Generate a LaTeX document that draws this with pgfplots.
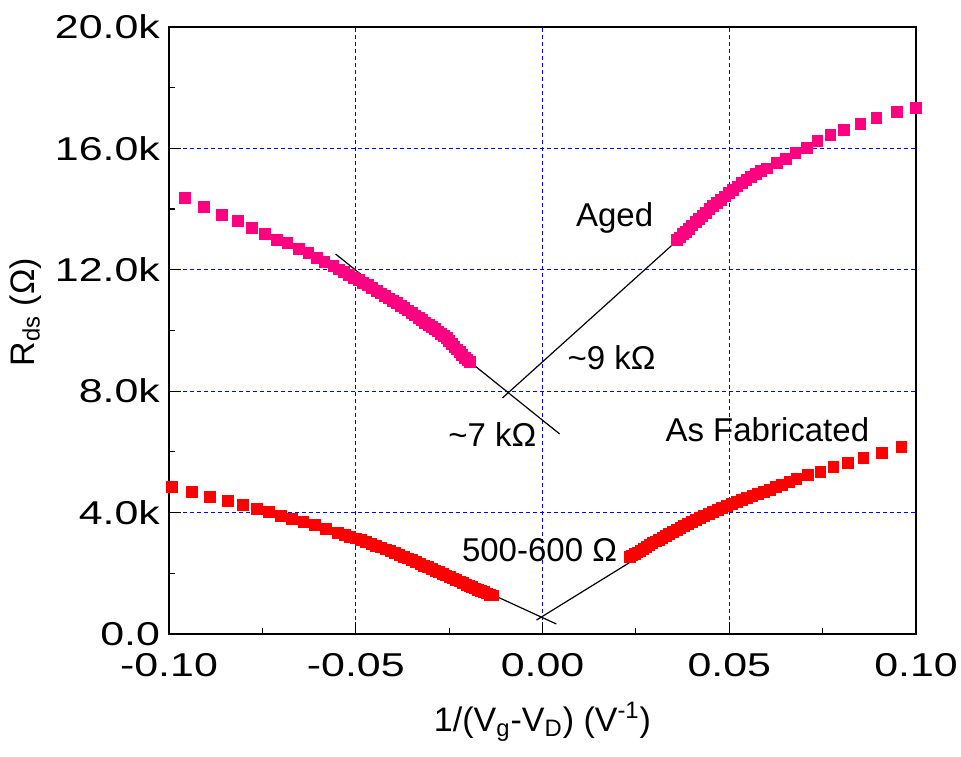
\documentclass[border=0pt]{standalone}
\usepackage{fontspec}
\setmainfont{Liberation Sans}
\newfontfamily\tickfont{Liberation Sans}[FakeStretch=1.3]
\usepackage{pgfplots}
\pgfplotsset{compat=1.18}

\definecolor{aged}{RGB}{255,0,128}
\definecolor{fab}{RGB}{255,0,0}

\begin{document}
\begin{tikzpicture}
  \begin{axis}[
      scale only axis,
      width=373.5pt, height=303.5pt,
      xmin=-0.1, xmax=0.1, ymin=0, ymax=20000,
      scaled ticks=false,
      xtick={-0.1,-0.05,0,0.05,0.1},
      xticklabels={-0.10,-0.05,0.00,0.05,0.10},
      ytick={0,4000,8000,12000,16000,20000},
      yticklabels={0.0,4.0k,8.0k,12.0k,16.0k,20.0k},
      minor xtick={-0.075,-0.025,0.025,0.075},
      minor ytick={2000,6000,10000,14000,18000},
      xtick pos=bottom, ytick pos=left,
      tick align=inside,
      major tick length=6pt, minor tick length=3pt,
      tick style={black, line width=0.6pt},
      axis line style={line width=1.25pt},
      ticklabel style={font=\tickfont\fontsize{16.5}{19}\selectfont},
      xticklabel style={yshift=-6pt},
      yticklabel style={xshift=-1pt},
      grid=major,
      major grid style={color={rgb,255:red,0;green,0;blue,255}, line width=0.6pt, dash pattern=on 2pt off 1.5pt},
      xlabel={1/(V\textsubscript{g}-V\textsubscript{D}) (V\textsuperscript{-1})},
      ylabel={R\textsubscript{ds} (Ω)},
      label style={font=\fontsize{17}{20}\selectfont},
      xlabel style={yshift=-6pt},
      ylabel style={at={(ticklabel cs:0.53)}},
      every axis plot/.append style={only marks, mark=square*, mark size=2.7pt},
    ]
    % aged, negative side
    \addplot[color=aged, mark options={draw=none, fill=aged}] coordinates {
      (-0.0957,14370) (-0.0907,14070) (-0.0859,13810) (-0.0816,13610)
      (-0.0779,13380) (-0.0744,13180) (-0.0712,12980) (-0.0683,12880)
      (-0.0653,12690) (-0.0627,12550) (-0.0605,12390) (-0.0584,12250)
      (-0.0560,12120) (-0.0546,12010) (-0.0532,11920) (-0.0518,11830)
      (-0.0505,11740) (-0.0492,11660) (-0.0480,11580) (-0.0468,11490)
      (-0.0456,11400) (-0.0444,11310) (-0.0433,11220) (-0.0422,11140)
      (-0.0411,11060) (-0.0400,10980) (-0.0390,10900) (-0.0380,10820)
      (-0.0370,10740) (-0.0360,10660) (-0.0350,10580) (-0.0341,10500)
      (-0.0332,10420) (-0.0323,10340) (-0.0314,10260) (-0.0305,10180)
      (-0.0297,10110) (-0.0289,10040) (-0.0281,9970) (-0.0273,9900)
      (-0.0265,9830) (-0.0257,9750) (-0.0250,9660) (-0.0243,9570)
      (-0.0236,9470) (-0.0229,9380) (-0.0222,9290) (-0.0215,9200)
      (-0.0208,9110) (-0.0201,9030) (-0.0195,8960)
    };
    % aged, positive side
    \addplot[color=aged, mark options={draw=none, fill=aged}] coordinates {
      (0.0359,12980) (0.0367,13070) (0.0375,13170) (0.0383,13260)
      (0.0392,13360) (0.0401,13460) (0.0410,13570) (0.0419,13670)
      (0.0428,13780) (0.0437,13880) (0.0447,14000) (0.0457,14100)
      (0.0467,14210) (0.0477,14310) (0.0488,14420) (0.0499,14530)
      (0.0510,14640) (0.0522,14750) (0.0534,14860) (0.0546,14970)
      (0.0558,15060) (0.0571,15170) (0.0585,15250) (0.0600,15340)
      (0.0627,15520) (0.0651,15650) (0.0677,15850) (0.0707,16010)
      (0.0736,16240) (0.0771,16440) (0.0806,16610) (0.0851,16800)
      (0.0894,17000) (0.0948,17200) (0.0999,17330)
    };
    % as fabricated, negative side
    \addplot[color=fab, mark options={draw=none, fill=fab}] coordinates {
      (-0.0992,4840) (-0.0939,4680) (-0.0890,4510) (-0.0843,4380)
      (-0.0803,4250) (-0.0765,4120) (-0.0733,4020) (-0.0701,3890)
      (-0.0672,3790) (-0.0640,3690) (-0.0610,3590) (-0.0579,3460)
      (-0.0547,3330) (-0.0530,3270) (-0.0515,3210) (-0.0500,3150)
      (-0.0486,3090) (-0.0472,3030) (-0.0458,2970) (-0.0445,2910)
      (-0.0432,2850) (-0.0419,2790) (-0.0407,2730) (-0.0395,2670)
      (-0.0383,2610) (-0.0371,2550) (-0.0360,2490) (-0.0349,2430)
      (-0.0338,2370) (-0.0327,2310) (-0.0317,2250) (-0.0307,2200)
      (-0.0297,2140) (-0.0287,2090) (-0.0277,2040) (-0.0267,1980)
      (-0.0258,1930) (-0.0249,1880) (-0.0240,1830) (-0.0231,1780)
      (-0.0222,1730) (-0.0213,1680) (-0.0204,1630) (-0.0196,1590)
      (-0.0188,1540) (-0.0180,1500) (-0.0172,1460) (-0.0164,1420)
      (-0.0156,1380) (-0.0148,1340) (-0.0140,1300) (-0.0132,1270)
    };
    % as fabricated, positive side
    \addplot[color=fab, mark options={draw=none, fill=fab}] coordinates {
      (0.0233,2540) (0.0240,2590) (0.0247,2640) (0.0254,2690)
      (0.0262,2750) (0.0270,2810) (0.0278,2870) (0.0286,2930)
      (0.0294,2990) (0.0303,3050) (0.0312,3110) (0.0321,3170)
      (0.0330,3230) (0.0339,3290) (0.0349,3360) (0.0359,3430)
      (0.0369,3490) (0.0379,3560) (0.0389,3620) (0.0400,3690)
      (0.0411,3750) (0.0422,3820) (0.0433,3890) (0.0445,3960)
      (0.0457,4030) (0.0469,4090) (0.0481,4160) (0.0494,4220)
      (0.0507,4280) (0.0520,4350) (0.0534,4420) (0.0548,4480)
      (0.0562,4540) (0.0577,4610) (0.0592,4680) (0.0608,4760)
      (0.0625,4840) (0.0642,4920) (0.0661,5000) (0.0680,5120)
      (0.0710,5240) (0.0744,5340) (0.0779,5500) (0.0817,5630)
      (0.0859,5800) (0.0908,5960) (0.0961,6160)
    };
    % linear fits
    \addplot[black, line width=0.6pt, no markers, sharp plot] coordinates {(-0.0554,12520) (0.0046,6590)};
    \addplot[black, line width=0.6pt, no markers, sharp plot] coordinates {(-0.0107,7780) (0.0573,15320)};
    \addplot[black, line width=0.6pt, no markers, sharp plot] coordinates {(-0.0423,2930) (0.0037,330)};
    \addplot[black, line width=0.6pt, no markers, sharp plot] coordinates {(-0.0016,460) (0.0530,4610)};

    \begin{scope}[every node/.style={font=\fontsize{16.5}{19}\selectfont}]
      \node at (axis cs:0.0193,13710) {Aged};
      \node at (axis cs:0.0185,9090) {\textasciitilde9 kΩ};
      \node at (axis cs:-0.0134,6560) {\textasciitilde7 kΩ};
      \node at (axis cs:0.0602,6720) {As Fabricated};
      \node at (axis cs:-0.0008,2770) {500-600 Ω};
    \end{scope}
  \end{axis}
  \pgfresetboundingbox
  \path[use as bounding box] ([shift={(-84.5pt,-61.5pt)}]current axis.south west)
    rectangle ([shift={(22.5pt,13.5pt)}]current axis.north east);
\end{tikzpicture}
\end{document}
